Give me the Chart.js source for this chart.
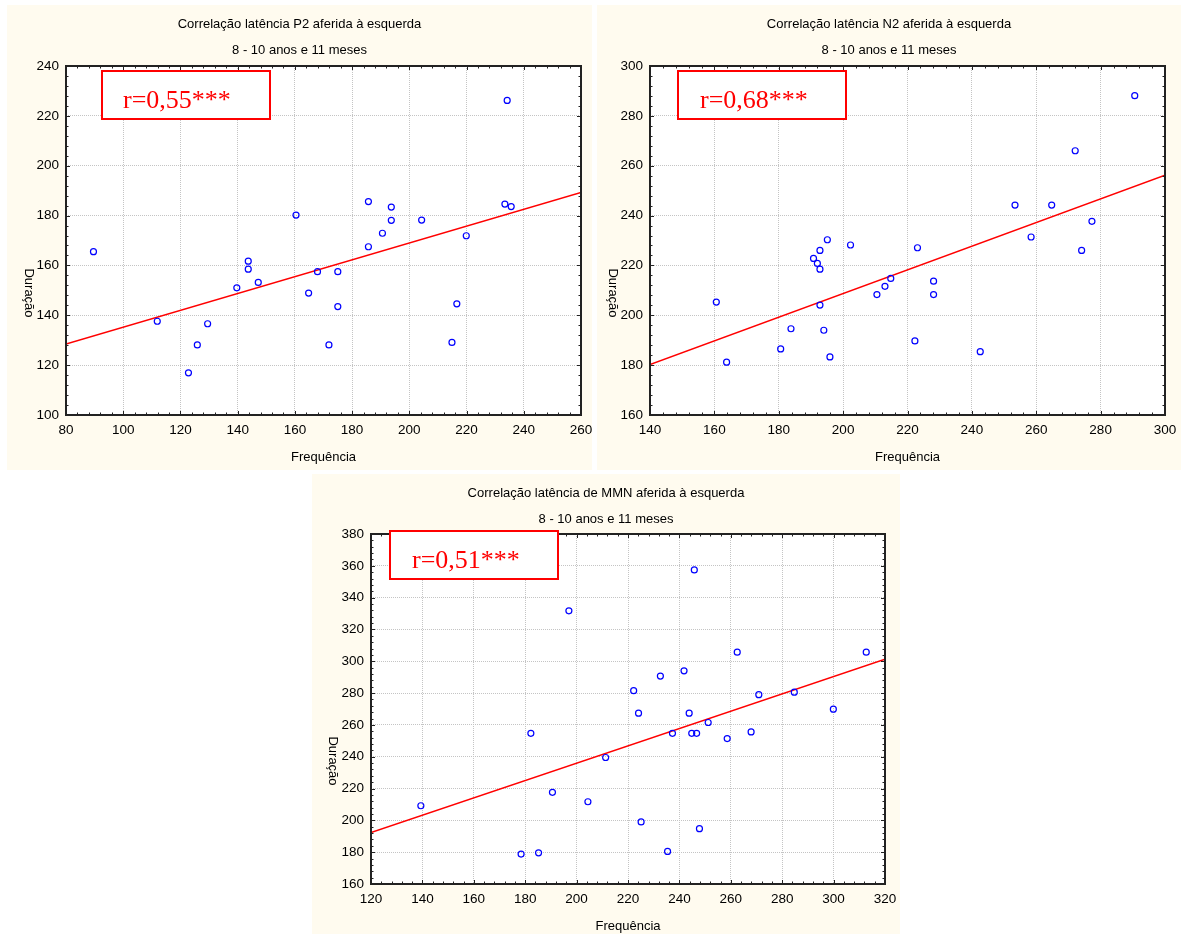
<!DOCTYPE html>
<html>
<head>
<meta charset="utf-8">
<script src="https://cdn.jsdelivr.net/npm/chart.js@4"></script>
<style>
  body { margin: 0; background: #ffffff; }
  #wrap { position: relative; width: 1181px; height: 934px; }
  canvas { position: absolute; }
</style>
</head>
<body>
<div id="wrap">
  <canvas id="chart-p2" width="585" height="465" style="left:7px;top:5px"></canvas>
  <canvas id="chart-n2" width="584" height="465" style="left:597px;top:5px"></canvas>
  <canvas id="chart-mmn" width="588" height="460" style="left:312px;top:474px"></canvas>
</div>
<script>
// P2
const p2Freq = [89.6, 111.9, 122.8, 125.9, 129.5, 139.7, 143.7, 143.7, 147.2, 160.4, 164.8, 167.9, 171.9, 175.0, 175.0, 185.7, 185.7, 190.6, 193.7, 193.7, 204.3, 214.9, 216.6, 219.9, 233.4, 235.6, 234.2];
const p2Dur  = [165.5, 137.6, 116.9, 128.1, 136.6, 151.0, 161.7, 158.5, 153.2, 180.2, 148.9, 157.5, 128.1, 157.5, 143.5, 185.6, 167.5, 172.9, 183.4, 178.1, 178.2, 129.1, 144.6, 171.9, 184.6, 183.6, 226.2];
const p2Fit  = [128.5, 189.3];

// N2
const n2Freq = [160.6, 163.8, 180.6, 183.8, 190.8, 192.0, 192.8, 192.8, 192.8, 194.0, 195.1, 195.9, 202.3, 210.5, 213.0, 214.8, 222.3, 223.1, 228.1, 228.1, 242.6, 253.4, 258.4, 264.8, 272.1, 274.1, 277.3, 290.6];
const n2Dur  = [205.3, 181.2, 186.5, 194.6, 222.8, 220.8, 226.0, 218.5, 204.1, 194.0, 230.3, 183.3, 228.2, 208.3, 211.6, 214.8, 189.7, 227.1, 213.7, 208.3, 185.4, 244.2, 231.4, 244.2, 266.0, 226.0, 237.7, 288.1];
const n2Fit  = [180.2, 256.2];

// MMN
const mmnFreq = [139.4, 178.4, 182.2, 185.2, 190.6, 197.0, 204.4, 211.3, 222.2, 224.1, 225.1, 232.6, 235.4, 237.3, 241.8, 243.8, 244.8, 245.8, 246.7, 247.8, 251.2, 258.6, 262.5, 267.9, 270.9, 284.7, 299.9, 312.7];
const mmnDur  = [209.2, 178.8, 254.7, 179.6, 217.6, 331.7, 211.7, 239.5, 281.5, 267.4, 199.0, 290.7, 180.5, 254.7, 294.0, 267.4, 254.7, 357.4, 254.7, 194.8, 261.5, 251.4, 305.7, 255.6, 279.0, 280.6, 269.9, 305.7];
const mmnFit  = [192.3, 301.3];

const titles = [
  'Correlação latência P2 aferida à esquerda',
  'Correlação latência N2 aferida à esquerda',
  'Correlação latência de MMN aferida à esquerda'
];
const subtitle = '8 - 10 anos e 11 meses';
const rLabels = ['r=0,55***', 'r=0,68***', 'r=0,51***'];
const xLabel = 'Frequência';
const yLabel = 'Duração';

const SANS = '"Liberation Sans", Arial, sans-serif';
const SERIF = '"Liberation Serif", "Times New Roman", serif';
const CREAM = '#fffbef';

const panelPlugin = {
  id: 'panel',
  beforeDraw(chart, args, o) {
    const { ctx, chartArea: a } = chart;
    ctx.save();
    ctx.fillStyle = CREAM;
    ctx.fillRect(0, 0, chart.width, chart.height);
    ctx.fillStyle = '#ffffff';
    ctx.fillRect(a.left, a.top, a.right - a.left, a.bottom - a.top);
    ctx.restore();
  },
  afterDraw(chart, args, o) {
    const { ctx, chartArea: a, scales: { x, y } } = chart;
    ctx.save();
    // frame
    ctx.strokeStyle = '#222';
    ctx.lineWidth = 2;
    ctx.strokeRect(a.left, a.top, a.right - a.left, a.bottom - a.top);
    // minor / major ticks pointing inward on all sides
    ctx.lineWidth = 1;
    ctx.beginPath();
    for (let v = x.min; v <= x.max + 0.001; v += o.minor) {
      const px = Math.round(x.getPixelForValue(v)) + 0.5;
      const len = (Math.round(v - x.min) % 20 === 0) ? 4 : 2.5;
      ctx.moveTo(px, a.bottom); ctx.lineTo(px, a.bottom - len);
      ctx.moveTo(px, a.top); ctx.lineTo(px, a.top + len);
    }
    for (let v = y.min; v <= y.max + 0.001; v += o.minor) {
      const py = Math.round(y.getPixelForValue(v)) + 0.5;
      const len = (Math.round(v - y.min) % 20 === 0) ? 4 : 2.5;
      ctx.moveTo(a.left, py); ctx.lineTo(a.left + len, py);
      ctx.moveTo(a.right, py); ctx.lineTo(a.right - len, py);
    }
    ctx.stroke();

    // titles
    ctx.fillStyle = '#000';
    ctx.textAlign = 'center';
    ctx.textBaseline = 'middle';
    ctx.font = '13px ' + SANS;
    ctx.fillText(o.title, chart.width / 2, o.titleY);
    ctx.fillText(subtitle, chart.width / 2, o.titleY + 26);
    ctx.fillText(xLabel, (a.left + a.right) / 2, o.xLabelY);
    ctx.save();
    ctx.translate(o.yLabelX, o.yLabelY);
    ctx.rotate(Math.PI / 2);
    ctx.fillText(yLabel, 0, 0);
    ctx.restore();

    // r annotation box
    const b = o.box;
    ctx.fillStyle = '#ffffff';
    ctx.fillRect(a.left + b.dx, a.top + b.dy, b.w, b.h);
    ctx.strokeStyle = '#ff0000';
    ctx.lineWidth = 2;
    ctx.strokeRect(a.left + b.dx, a.top + b.dy, b.w, b.h);
    ctx.fillStyle = '#ff0000';
    ctx.textAlign = 'left';
    ctx.textBaseline = 'alphabetic';
    ctx.font = '26px ' + SERIF;
    ctx.fillText(o.r, a.left + b.dx + b.tx, a.top + b.dy + 37);
    ctx.restore();
  }
};

function makePanel(id, freq, dur, fit, xr, yr, lay) {
  const pts = freq.map((f, i) => ({ x: f, y: dur[i] }));
  const tickFont = { size: 13.5, family: SANS };
  new Chart(document.getElementById(id), {
    type: 'scatter',
    data: {
      datasets: [
        {
          data: pts,
          pointStyle: 'circle',
          pointRadius: 3,
          pointBorderWidth: 1.2,
          pointBorderColor: '#0000ff',
          pointBackgroundColor: 'rgba(0,0,0,0)',
          pointHoverRadius: 3
        },
        {
          data: [{ x: xr[0], y: fit[0] }, { x: xr[1], y: fit[1] }],
          showLine: true,
          borderColor: '#ff0000',
          borderWidth: 1.5,
          pointRadius: 0
        }
      ]
    },
    options: {
      responsive: false,
      animation: false,
      events: [],
      layout: { padding: { left: 0, top: lay.top, right: lay.right, bottom: 0 } },
      plugins: {
        legend: { display: false },
        tooltip: { enabled: false },
        panel: lay.panel
      },
      scales: {
        x: {
          type: 'linear', min: xr[0], max: xr[1],
          ticks: { stepSize: 20, autoSkip: false, maxRotation: 0, color: '#000', font: tickFont, padding: 7 },
          grid: { color: '#c4c4c4', drawTicks: false, lineWidth: 1 },
          border: { display: false, dash: [1, 1] },
          afterFit(s) { s.height = lay.xH; s.paddingLeft = 0; s.paddingRight = 0; }
        },
        y: {
          type: 'linear', min: yr[0], max: yr[1],
          ticks: { stepSize: 20, autoSkip: false, color: '#000', font: tickFont, padding: 7 },
          grid: { color: '#c4c4c4', drawTicks: false, lineWidth: 1 },
          border: { display: false, dash: [1, 1] },
          afterFit(s) { s.width = lay.yW; s.paddingTop = 0; s.paddingBottom = 0; }
        }
      }
    },
    plugins: [panelPlugin]
  });
}

makePanel('chart-p2', p2Freq, p2Dur, p2Fit, [80, 260], [100, 240], {
  top: 61, right: 11, xH: 55, yW: 59,
  panel: { title: titles[0], r: rLabels[0], titleY: 19, xLabelY: 452, yLabelX: 22, yLabelY: 288, minor: 4,
           box: { dx: 36, dy: 5, w: 168, h: 48, tx: 21 } }
});
makePanel('chart-n2', n2Freq, n2Dur, n2Fit, [140, 300], [160, 300], {
  top: 61, right: 16, xH: 55, yW: 53,
  panel: { title: titles[1], r: rLabels[1], titleY: 19, xLabelY: 452, yLabelX: 16, yLabelY: 288, minor: 4,
           box: { dx: 28, dy: 5, w: 168, h: 48, tx: 22 } }
});
makePanel('chart-mmn', mmnFreq, mmnDur, mmnFit, [120, 320], [160, 380], {
  top: 60, right: 15, xH: 50, yW: 59,
  panel: { title: titles[2], r: rLabels[2], titleY: 19, xLabelY: 452, yLabelX: 21, yLabelY: 287, minor: 4,
           box: { dx: 19, dy: -3, w: 168, h: 48, tx: 22 } }
});
</script>
</body>
</html>
